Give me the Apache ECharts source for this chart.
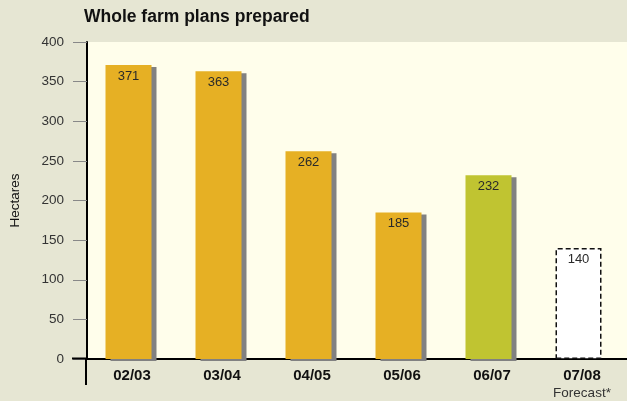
<!DOCTYPE html>
<html>
<head>
<meta charset="utf-8">
<script src="https://cdn.jsdelivr.net/npm/echarts@6/dist/echarts.min.js"></script>
<style>
  html, body { margin: 0; padding: 0; background: #e6e6d3; }
  #chart { width: 627px; height: 401px; }
</style>
</head>
<body>
<div id="chart"></div>
<script>
// Whole farm plans prepared, hectares per financial year
const categories = ['02/03', '03/04', '04/05', '05/06', '06/07', '07/08'];
const hectares = [371, 363, 262, 185, 232, 140];
const forecastIndex = 5;   // last year is a forecast
const currentIndex = 4;    // most recent actual year
const yTicks = { min: 0, max: 400, interval: 50 };

const FONT = '"Liberation Sans", Arial, Helvetica, sans-serif';
const GOLD = '#e6b024';
const GREEN = '#c0c431';
const SHADOW = '#818181';

const chart = echarts.init(document.getElementById('chart'), null, { renderer: 'canvas' });

const barData = hectares.map((v, i) => {
  if (i === forecastIndex) {
    return {
      value: v,
      itemStyle: {
        color: '#ffffff',
        borderColor: '#111111',
        borderWidth: 1.5,
        borderType: [5, 3],
        shadowColor: 'rgba(0,0,0,0)'
      }
    };
  }
  return {
    value: v,
    itemStyle: { color: i === currentIndex ? GREEN : GOLD }
  };
});

chart.setOption({
  backgroundColor: '#e6e6d3',
  animation: false,
  textStyle: { fontFamily: FONT },
  title: {
    text: 'Whole farm plans prepared',
    left: 79,
    top: 3,
    textStyle: { fontFamily: FONT, fontSize: 17.5, fontWeight: 'bold', color: '#111111' }
  },
  grid: {
    left: 86, width: 544, top: 42, bottom: 42,
    show: true,
    backgroundColor: '#fffeeb',
    borderWidth: 0
  },
  xAxis: {
    type: 'category',
    data: categories,
    axisLine: { show: true, lineStyle: { color: '#000000', width: 2 } },
    axisTick: { show: false },
    axisLabel: {
      interval: 0,
      hideOverlap: false,
      margin: 8,
      verticalAlign: 'top',
      formatter: (val, idx) => idx === forecastIndex
        ? '{b|' + val + '}\n{f|Forecast*}'
        : '{b|' + val + '}',
      rich: {
        b: { fontFamily: FONT, fontSize: 15, fontWeight: 'bold', color: '#111111', lineHeight: 18 },
        f: { fontFamily: FONT, fontSize: 13.5, color: '#333333', lineHeight: 16 }
      }
    },
    splitLine: { show: false }
  },
  yAxis: {
    type: 'value',
    min: yTicks.min,
    max: yTicks.max,
    interval: yTicks.interval,
    name: 'Hectares',
    nameLocation: 'middle',
    nameGap: 65,
    nameRotate: 90,
    nameTextStyle: { fontFamily: FONT, fontSize: 13.5, color: '#111111' },
    axisLine: { show: true, lineStyle: { color: '#000000', width: 2 } },
    axisTick: { show: true, length: 14, lineStyle: { color: '#888888', width: 1 } },
    axisLabel: { margin: 23, fontFamily: FONT, fontSize: 13.5, color: '#333333' },
    splitLine: { show: false }
  },
  series: [{
    type: 'bar',
    data: barData,
    barWidth: 46,
    barGap: '0%',
    itemStyle: {
      shadowColor: SHADOW,
      shadowBlur: 0,
      shadowOffsetX: 5,
      shadowOffsetY: 2
    },
    label: {
      show: true,
      position: 'insideTop',
      distance: 5,
      fontFamily: FONT,
      fontSize: 13,
      color: '#2a2a2a'
    }
  }, {
    // empty slot beside each bar that leaves room for its drop shadow
    type: 'bar',
    data: [],
    barWidth: 7,
    barGap: '0%',
    silent: true
  }],
  graphic: [
    // y-axis line carried below the baseline, and baseline carried left of the axis
    { type: 'line', shape: { x1: 86, y1: 358, x2: 86, y2: 385 }, style: { stroke: '#000', lineWidth: 2 }, z: 10 },
    { type: 'line', shape: { x1: 72, y1: 358.5, x2: 86, y2: 358.5 }, style: { stroke: '#000', lineWidth: 2 }, z: 10 }
  ]
});
</script>
</body>
</html>
